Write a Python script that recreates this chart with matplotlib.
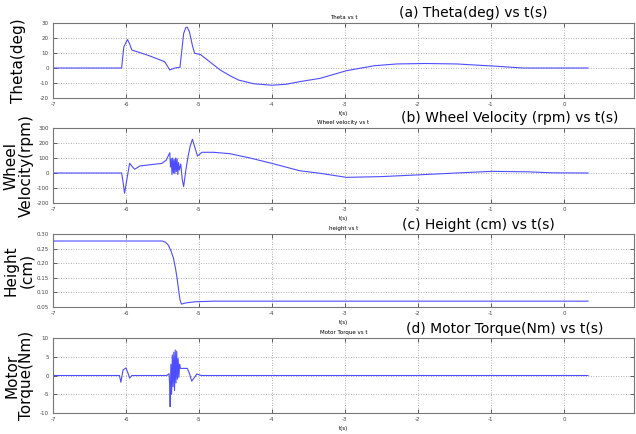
import matplotlib
matplotlib.use("Agg")
import matplotlib.pyplot as plt

plt.rcParams["axes.unicode_minus"] = False
plt.rcParams["font.family"] = "DejaVu Sans"

# theta (deg) vs t
theta_t = [-7.0, -6.06, -6.03, -5.98, -5.95, -5.92, -5.70, -5.47, -5.40, -5.33, -5.26, -5.23,
           -5.21, -5.18, -5.16, -5.13, -5.09, -5.06, -4.98, -4.85, -4.71, -4.58, -4.46,
           -4.25, -4.0, -3.80, -3.62, -3.34, -2.98, -2.60, -2.29, -1.90, -1.47, -0.97,
           -0.56, 0.0, 0.33]
theta_v = [0, 0, 14, 19, 16, 12, 8.5, 4.2, -1.3, 0.0, 0.5, 14,
           23, 27, 27.2, 24, 15, 9.8, 9.0, 4.0, -1.3, -5.0, -8.0,
           -10.5, -11.5, -10.8, -9.1, -6.9, -1.8, 1.5, 2.7, 3.0, 2.7, 1.3,
           0.0, 0.0, 0.0]

# wheel velocity (rpm) vs t
wheel_t = [-7.0, -6.06, -6.04, -6.02, -5.98, -5.95, -5.91, -5.88, -5.81, -5.51, -5.45,
           -5.40, -5.39, -5.38, -5.37, -5.36, -5.35, -5.34, -5.33, -5.32, -5.31, -5.30,
           -5.29, -5.28, -5.27, -5.25, -5.23, -5.21, -5.18, -5.15, -5.12, -5.09,
           -5.05, -5.02, -4.96, -4.80, -4.58, -4.30, -4.0, -3.62, -3.34, -2.98,
           -2.50, -2.02, -1.47, -0.99, -0.50, -0.15, 0.33]
wheel_v = [0, 0, -60, -135, -20, 65, 40, 25, 47, 64, 85,
           135, 40, 95, -10, 100, 0, 90, -5, 100, 10, 95,
           -10, 70, 20, 60, -40, -91, 20, 109, 180, 225,
           160, 113, 138, 138, 129, 100, 64, 15, -2, -29,
           -24, -13, 0, 11, 8, 1, 0]

# height (cm) vs t
height_t = [-7.0, -5.50, -5.46, -5.42, -5.38, -5.35, -5.32, -5.30, -5.28, -5.26, -5.24,
            -5.18, -5.05, -4.80, 0.33]
height_v = [0.276, 0.276, 0.272, 0.262, 0.240, 0.217, 0.180, 0.148, 0.110, 0.074, 0.060,
            0.064, 0.068, 0.070, 0.070]

# motor torque (Nm) vs t
torque_t = [-7.0, -6.09, -6.07, -6.04, -6.00, -5.97, -5.95, -5.92, -5.44, -5.41, -5.40,
            -5.395, -5.385, -5.375, -5.365, -5.355, -5.345, -5.335, -5.325, -5.315,
            -5.305, -5.295, -5.285, -5.275, -5.265, -5.255, -5.16, -5.13, -5.10, -5.06,
            -5.03, -5.00, -4.97, 0.33]
torque_v = [0, 0, -1.8, 1.5, 2.0, 0.5, -0.7, 0, 0, 0.5, -3,
            -8.3, 3, -5, 5.5, -3, 6.2, -4, 6.8, -2,
            6.5, -1, 4.5, -0.5, 3, 1.9, 1.9, 0.5, -1.5, -0.5,
            0.4, 0.2, 0, 0]

panels = [
    (theta_t, theta_v, (-20, 30), [-20, -10, 0, 10, 20, 30], "Theta vs t",
     "Theta(deg)", "(a) Theta(deg) vs t(s)", 23, 98, 473, 13),
    (wheel_t, wheel_v, (-200, 300), [-200, -100, 0, 100, 200, 300], "Wheel velocity vs t",
     "Wheel\nVelocity(rpm)", "(b) Wheel Velocity (rpm) vs t(s)", 128, 203, 510, 118),
    (height_t, height_v, (0.05, 0.3), [0.05, 0.1, 0.15, 0.2, 0.25, 0.3], "height vs t",
     "Height\n(cm)", "(c) Height (cm) vs t(s)", 234, 307, 478, 225),
    (torque_t, torque_v, (-10, 10), [-10, -5, 0, 5, 10], "Motor Torque vs t",
     "Motor\nTorque(Nm)", "(d) Motor Torque(Nm) vs t(s)", 338, 413, 505, 329),
]

W, H = 636, 434
fig = plt.figure(figsize=(W / 100, H / 100), dpi=100)

for t, v, ylim, yticks, small, ylab, big, top, bot, tx, ty in panels:
    ax = fig.add_axes([53 / W, 1 - bot / H, 581 / W, (bot - top) / H])
    ax.plot(t, v, color="#4d4dff", lw=0.8)
    ax.set_xlim(-7, 0.96)
    ax.set_ylim(*ylim)
    ax.set_xticks(range(-7, 1))
    ax.set_yticks(yticks)
    ax.grid(True, linestyle=(0, (1, 2)), color="#999999", lw=0.6)
    ax.tick_params(direction="in", length=3, width=0.6, labelsize=4, pad=3,
                   top=True, right=True, colors="#444444")
    for s in ax.spines.values():
        s.set_color("#777777")
        s.set_linewidth(0.8)
    ax.set_title(small, fontsize=4, pad=3)
    ax.set_xlabel("t(s)", fontsize=4, labelpad=3)
    cy = (top + bot) / 2
    fig.text(19 / W, 1 - cy / H, ylab, rotation=90, fontsize=11, linespacing=1.0,
             ha="center", va="center", multialignment="center")
    fig.text(tx / W, 1 - ty / H, big, fontsize=10, ha="center", va="center")

fig.savefig("out.png", dpi=100)
